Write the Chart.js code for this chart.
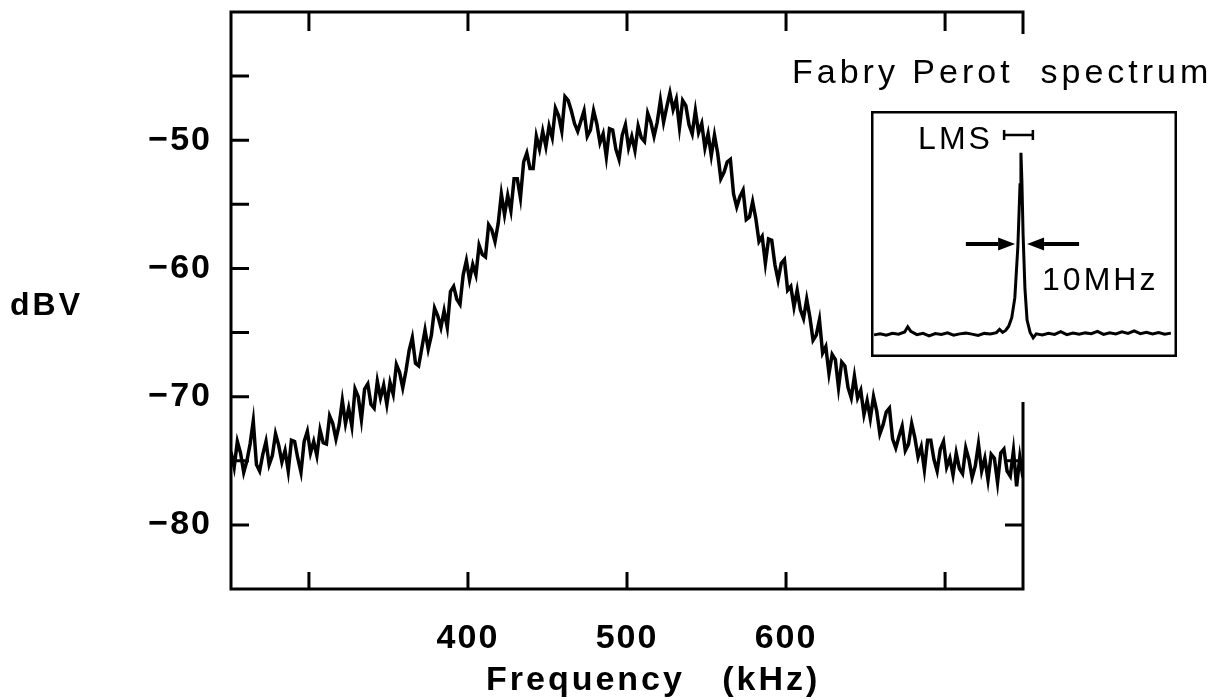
<!DOCTYPE html>
<html><head><meta charset="utf-8">
<script src="https://cdn.jsdelivr.net/npm/chart.js@4/dist/chart.umd.min.js"></script>
<style>
html,body{margin:0;padding:0;background:#fff;}
#wrap{position:relative;width:1220px;height:700px;overflow:hidden;}
#main{position:absolute;left:0;top:0;}
#inset{position:absolute;left:871px;top:111px;}
</style></head><body>
<div id="wrap">
<canvas id="main" width="1220" height="700"></canvas>
<canvas id="inset" width="306" height="246"></canvas>
</div>
<script>
// ---- main spectrum data (kHz, dBV) ----
const freqKHz = [
251,253,255,257,259,261,263,265,267,269,
271,273,275,277,279,281,283,285,287,289,
291,293,295,297,299,301,303,305,307,309,
311,313,315,317,319,321,323,325,327,329,
331,333,335,337,339,341,343,345,347,349,
351,353,355,357,359,361,363,365,367,369,
371,373,375,377,379,381,383,385,387,389,
391,393,395,397,399,401,403,405,407,409,
411,413,415,417,419,421,423,425,427,429,
431,433,435,437,439,441,443,445,447,449,
451,453,455,457,459,461,463,465,467,469,
471,473,475,477,479,481,483,485,487,489,
491,493,495,497,499,501,503,505,507,509,
511,513,515,517,519,521,523,525,527,529,
531,533,535,537,539,541,543,545,547,549,
551,553,555,557,559,561,563,565,567,569,
571,573,575,577,579,581,583,585,587,589,
591,593,595,597,599,601,603,605,607,609,
611,613,615,617,619,621,623,625,627,629,
631,633,635,637,639,641,643,645,647,649,
651,653,655,657,659,661,663,665,667,669,
671,673,675,677,679,681,683,685,687,689,
691,693,695,697,699,701,703,705,707,709,
711,713,715,717,719,721,723,725,727,729,
731,733,735,737,739,741,743,745,747,749];
const levelDBV = [
-74.3,-75.5,-73.5,-74.4,-75.9,-75.0,-73.7,-71.9,-75.3,-75.8,
-74.5,-73.5,-75.3,-74.6,-72.9,-73.8,-75.1,-74.2,-75.8,-73.4,
-73.5,-74.8,-75.9,-73.5,-72.7,-74.4,-73.5,-74.6,-72.6,-73.6,
-73.7,-71.5,-72.1,-73.3,-72.2,-70.3,-72.1,-70.9,-72.3,-69.4,
-70.0,-71.8,-69.4,-69.0,-70.6,-70.9,-68.8,-70.1,-69.1,-70.6,
-68.9,-69.8,-67.5,-68.1,-69.3,-68.0,-66.4,-65.4,-67.4,-67.6,
-66.2,-64.8,-66.3,-65.2,-63.1,-63.7,-64.6,-63.3,-64.6,-61.8,
-61.4,-62.4,-62.8,-60.5,-59.4,-60.9,-59.7,-60.5,-58.2,-58.9,
-59.1,-56.6,-57.0,-57.9,-56.5,-54.2,-55.8,-54.3,-55.5,-53.0,
-53.0,-54.5,-51.7,-51.0,-52.2,-52.2,-49.7,-50.7,-49.3,-50.5,
-48.9,-49.8,-47.5,-48.1,-49.3,-46.6,-46.9,-47.7,-48.7,-49.3,
-48.5,-47.7,-49.7,-49.2,-47.7,-48.7,-50.2,-49.5,-51.3,-49.1,
-49.2,-50.7,-51.5,-49.6,-48.8,-50.6,-49.7,-50.8,-48.9,-49.8,
-50.1,-47.9,-48.6,-49.7,-48.6,-46.9,-48.6,-47.4,-46.3,-47.6,
-46.8,-49.0,-46.9,-47.3,-48.8,-49.5,-47.7,-49.4,-48.7,-50.6,
-49.5,-51.2,-49.6,-51.0,-53.0,-52.5,-51.7,-51.5,-54.2,-55.2,
-54.4,-53.9,-56.2,-56.0,-54.8,-56.1,-57.9,-57.5,-59.6,-57.7,
-57.8,-59.7,-60.9,-59.6,-59.3,-61.7,-61.4,-63.0,-61.7,-63.2,
-63.9,-62.4,-63.8,-65.6,-65.2,-64.0,-66.6,-66.1,-68.2,-66.7,
-67.1,-69.3,-67.3,-67.6,-69.3,-70.1,-68.4,-70.1,-69.5,-71.4,
-70.3,-71.7,-70.0,-71.1,-72.9,-72.2,-71.2,-70.9,-73.3,-74.0,
-73.1,-72.3,-74.2,-73.7,-72.1,-73.2,-74.7,-73.9,-75.7,-73.4,
-73.4,-74.9,-75.8,-74.1,-73.5,-75.5,-74.8,-76.1,-74.4,-75.6,
-76.0,-74.0,-74.9,-76.3,-75.4,-73.7,-75.8,-74.8,-76.5,-74.5,
-74.8,-76.7,-74.4,-74.1,-75.8,-76.2,-74.2,-77.0,-74.7,-76.3];

const xTickValues = [300, 400, 500, 600, 700];
const xTickLabels = ['', '400', '500', '600', ''];
const yTickValues = [-80, -75, -70, -65, -60, -55, -50, -45];
const yTickLabels = ['\u221280', '', '\u221270', '', '\u221260', '', '\u221250', ''];
const xAxisTitle = 'Frequency   (kHz)';
const yAxisTitle = 'dBV';

// ---- inset (Fabry Perot spectrum), arbitrary units ----
const insetTitle = 'Fabry Perot  spectrum';
const insetX = [1,3,5,7,9,11,12,13,15,17,19,21,23,25,27,29,31,33,35,37,39,41,42,43,44,45,46,47,48,48.7,49,49.3,49.7,50.3,51,52,53,54,56,58,60,62,64,66,68,70,72,74,76,78,80,82,84,86,88,90,92,94,96,98];
const insetY = [9.0,9.4,8.9,9.6,9.3,10.2,12.3,10.4,9.1,9.6,8.6,9.5,9.2,9.8,8.9,9.4,9.7,9.3,8.8,9.6,9.4,9.9,11.2,10.0,10.8,12.5,16.0,24.0,45.0,70.0,83.0,72.0,50.0,28.0,15.0,10.0,7.8,9.4,9.0,9.6,9.2,10.3,9.1,9.7,9.3,9.8,9.5,10.4,9.2,9.8,9.4,10.2,9.6,10.6,9.5,10.0,9.4,9.9,9.3,9.7];
const lmsLabel = 'LMS';
const lmsLabelPos = [15.4, 84.5];
const lmsBarX = [43.5, 52.9];
const lmsBarY = [90.2];
const widthLabel = '10MHz';
const widthLabelPos = [55.9, 27.2];
const leftArrowX = [31.0, 47.1];
const rightArrowX = [68.0, 51.0];
const arrowY = [45.9];

const FONT = '"Liberation Sans", Arial, Helvetica, sans-serif';

const mainPlugin = {
  id: 'mainDecor',
  beforeDraw(chart) {
    const c = chart.ctx;
    c.save(); c.fillStyle = '#fff'; c.fillRect(0, 0, chart.width, chart.height); c.restore();
    c.letterSpacing = '2px';
  },
  afterDraw(chart) {
    const ctx = chart.ctx, a = chart.chartArea, xs = chart.scales.x, ys = chart.scales.y;
    ctx.save();
    ctx.letterSpacing = '0px';
    ctx.strokeStyle = '#000'; ctx.lineWidth = 3;
    ctx.strokeRect(a.left, a.top, a.right - a.left, a.bottom - a.top);
    ctx.beginPath();
    xTickValues.forEach(v => {
      const p = xs.getPixelForValue(v);
      ctx.moveTo(p, a.bottom); ctx.lineTo(p, a.bottom - 17);
      ctx.moveTo(p, a.top); ctx.lineTo(p, a.top + 19);
    });
    yTickValues.forEach(v => {
      const p = ys.getPixelForValue(v);
      ctx.moveTo(a.left, p); ctx.lineTo(a.left + 18, p);
      ctx.moveTo(a.right, p); ctx.lineTo(a.right - 18, p);
    });
    ctx.stroke();
    // paste-up white area behind inset title / inset
    ctx.fillStyle = '#fff';
    ctx.fillRect(780, 34, 440, 80);
    ctx.fillRect(1000, 34, 34, 368);
    ctx.fillStyle = '#000';
    ctx.textAlign = 'left'; ctx.textBaseline = 'alphabetic';
    ctx.font = 'bold 32px ' + FONT; ctx.letterSpacing = '3px';
    ctx.fillText(yAxisTitle, 10, 315);
    ctx.font = 'bold 34px ' + FONT; ctx.letterSpacing = '3px';
    ctx.fillText(xAxisTitle, 486, 690);
    ctx.font = '34px ' + FONT; ctx.letterSpacing = '4px';
    ctx.fillText(insetTitle, 792, 83);
    ctx.restore();
  }
};

const zeroPad = s => { s.paddingTop = 0; s.paddingBottom = 0; s.paddingLeft = 0; s.paddingRight = 0; };

new Chart(document.getElementById('main'), {
  type: 'line',
  data: { datasets: [{
    data: freqKHz.map((f, i) => ({ x: f, y: levelDBV[i] })),
    borderColor: '#000', borderWidth: 3.5, pointRadius: 0, tension: 0, fill: false
  }] },
  options: {
    responsive: false, animation: false, devicePixelRatio: 1,
    layout: { padding: { left: 0, right: 197, top: 12, bottom: 0 } },
    plugins: { legend: { display: false }, tooltip: { enabled: false }, title: { display: false } },
    scales: {
      x: {
        type: 'linear', min: 251, max: 749,
        afterBuildTicks: s => { s.ticks = xTickValues.map(v => ({ value: v })); },
        afterFit: s => { s.height = 111; zeroPad(s); },
        grid: { display: false }, border: { display: false },
        ticks: { callback: (v, i) => xTickLabels[i], color: '#000', padding: 21, autoSkip: false, maxRotation: 0,
                 font: { family: FONT, size: 34, weight: 'bold' } }
      },
      y: {
        type: 'linear', min: -85, max: -40,
        afterBuildTicks: s => { s.ticks = yTickValues.map(v => ({ value: v })); },
        afterFit: s => { s.width = 231; zeroPad(s); },
        grid: { display: false }, border: { display: false },
        ticks: { callback: (v, i) => yTickLabels[i], color: '#000', padding: 11, autoSkip: false,
                 font: { family: FONT, size: 34, weight: 'bold' } }
      }
    }
  },
  plugins: [mainPlugin]
});

function arrow(ctx, x0, x1, y) {
  const dir = Math.sign(x1 - x0), head = 17, hw = 6.5;
  ctx.beginPath(); ctx.lineWidth = 4;
  ctx.moveTo(x0, y); ctx.lineTo(x1 - dir * head, y); ctx.stroke();
  ctx.beginPath();
  ctx.moveTo(x1, y); ctx.lineTo(x1 - dir * head, y - hw); ctx.lineTo(x1 - dir * head, y + hw); ctx.closePath(); ctx.fill();
}

const insetPlugin = {
  id: 'insetDecor',
  beforeDraw(chart) {
    const c = chart.ctx;
    c.save(); c.fillStyle = '#fff'; c.fillRect(0, 0, chart.width, chart.height); c.restore();
  },
  afterDraw(chart) {
    const ctx = chart.ctx, xs = chart.scales.x, ys = chart.scales.y;
    ctx.save();
    ctx.strokeStyle = '#000'; ctx.fillStyle = '#000';
    ctx.lineWidth = 2.5;
    ctx.strokeRect(1.25, 1.25, chart.width - 2.5, chart.height - 2.5);
    ctx.font = '32px ' + FONT; ctx.letterSpacing = '3px';
    ctx.textAlign = 'left'; ctx.textBaseline = 'alphabetic';
    ctx.fillText(lmsLabel, xs.getPixelForValue(lmsLabelPos[0]), ys.getPixelForValue(lmsLabelPos[1]));
    const bx0 = xs.getPixelForValue(lmsBarX[0]), bx1 = xs.getPixelForValue(lmsBarX[1]), by = ys.getPixelForValue(lmsBarY[0]);
    ctx.lineWidth = 2.5; ctx.beginPath();
    ctx.moveTo(bx0, by); ctx.lineTo(bx1, by);
    ctx.moveTo(bx0, by - 5); ctx.lineTo(bx0, by + 5);
    ctx.moveTo(bx1, by - 5); ctx.lineTo(bx1, by + 5);
    ctx.stroke();
    const ay = ys.getPixelForValue(arrowY[0]);
    arrow(ctx, xs.getPixelForValue(leftArrowX[0]), xs.getPixelForValue(leftArrowX[1]), ay);
    arrow(ctx, xs.getPixelForValue(rightArrowX[0]), xs.getPixelForValue(rightArrowX[1]), ay);
    ctx.font = '32px ' + FONT; ctx.letterSpacing = '3px';
    ctx.fillText(widthLabel, xs.getPixelForValue(widthLabelPos[0]), ys.getPixelForValue(widthLabelPos[1]));
    ctx.restore();
  }
};

new Chart(document.getElementById('inset'), {
  type: 'line',
  data: { datasets: [{
    data: insetX.map((x, i) => ({ x: x, y: insetY[i] })),
    borderColor: '#000', borderWidth: 3, pointRadius: 0, tension: 0, fill: false
  }] },
  options: {
    responsive: false, animation: false, devicePixelRatio: 1,
    layout: { padding: 0 },
    plugins: { legend: { display: false }, tooltip: { enabled: false } },
    scales: {
      x: { type: 'linear', display: false, min: 0, max: 100 },
      y: { type: 'linear', display: false, min: 0, max: 100 }
    }
  },
  plugins: [insetPlugin]
});
</script>
</body></html>
